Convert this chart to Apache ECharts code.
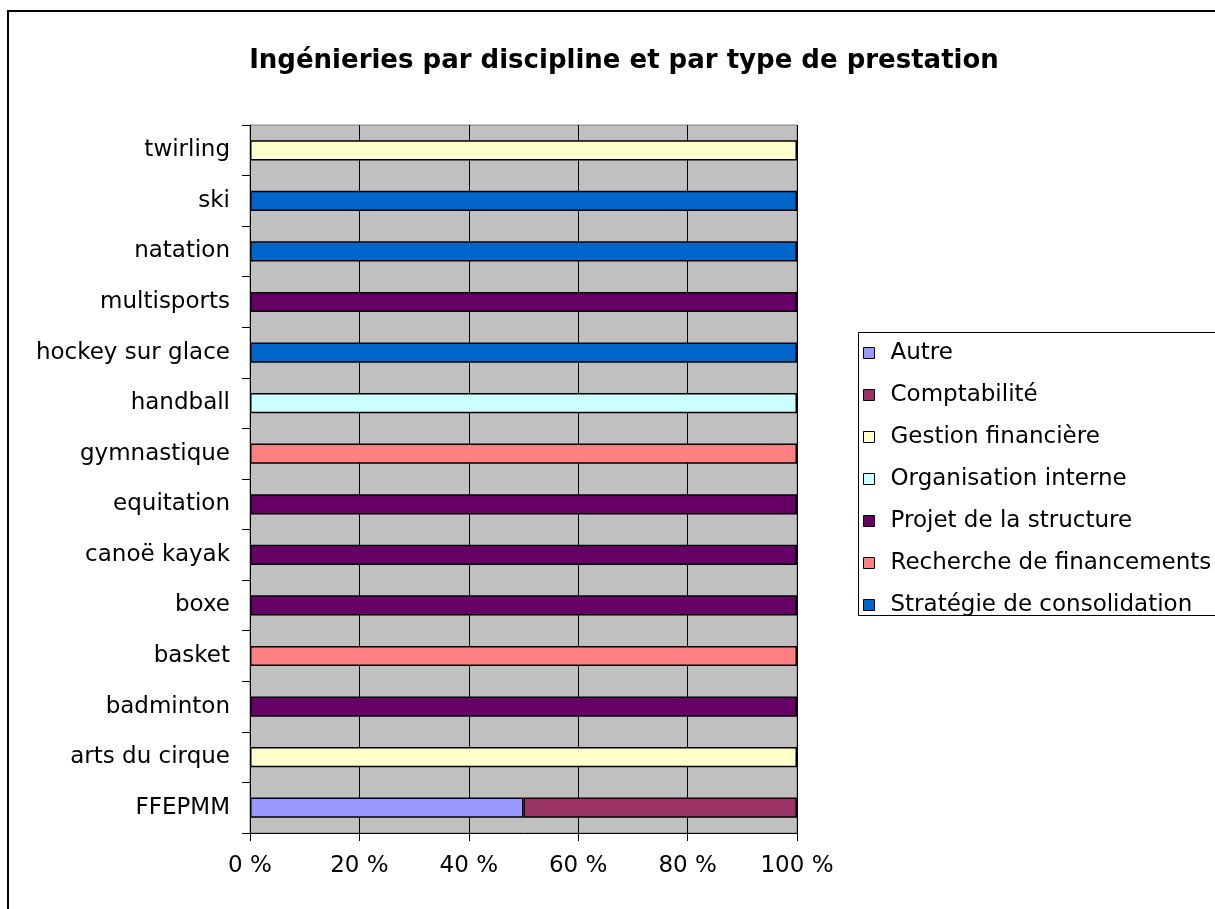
<!DOCTYPE html>
<html>
<head>
<meta charset="utf-8">
<script src="https://cdn.jsdelivr.net/npm/echarts@6/dist/echarts.min.js"></script>
<style>html,body{margin:0;padding:0;background:#fff}#c{width:1215px;height:909px}</style>
</head>
<body>
<div id="c"></div>
<script>
var categories = ['FFEPMM','arts du cirque','badminton','basket','boxe','canoë kayak','equitation','gymnastique','handball','hockey sur glace','multisports','natation','ski','twirling'];
var seriesNames = ['Autre','Comptabilité','Gestion financière','Organisation interne','Projet de la structure','Recherche de financements','Stratégie de consolidation'];
var seriesColors = ['#9999FF','#993366','#FFFFCC','#CCFFFF','#660066','#FF8080','#0066CC'];
// percentage share per category (order of categories)
var autre        = [50,null,null,null,null,null,null,null,null,null,null,null,null,null];
var comptabilite = [50,null,null,null,null,null,null,null,null,null,null,null,null,null];
var gestionFin   = [null,100,null,null,null,null,null,null,null,null,null,null,null,100];
var organisation = [null,null,null,null,null,null,null,null,100,null,null,null,null,null];
var projet       = [null,null,100,null,100,100,100,null,null,null,100,null,null,null];
var recherche    = [null,null,null,100,null,null,null,100,null,null,null,null,null,null];
var strategie    = [null,null,null,null,null,null,null,null,null,100,null,100,100,null];
var seriesData = [autre, comptabilite, gestionFin, organisation, projet, recherche, strategie];
var xTicks = [0,20,40,60,80,100];

var FONT = 'DejaVu Sans, sans-serif';
var chart = echarts.init(document.getElementById('c'));
var series = seriesNames.map(function(n,i){
  return {
    name: n, type: 'bar', stack: 'total', barWidth: '40%',
    data: seriesData[i],
    itemStyle: {color: seriesColors[i], borderColor: '#000', borderWidth: 1.5},
    emphasis: {disabled: true}
  };
});
chart.setOption({
  animation: false,
  backgroundColor: '#fff',
  title: {
    text: 'Ingénieries par discipline et par type de prestation',
    left: 619, top: 43, textAlign: 'center',
    textStyle: {fontFamily: FONT, fontSize: 26, fontWeight: 'bold', color: '#000'}
  },
  graphic: [{
    type: 'rect', shape: {x: 8, y: 11, width: 1300, height: 1000},
    style: {fill: 'none', stroke: '#000', lineWidth: 2}, silent: true
  },{
    type: 'rect', shape: {x: 858.5, y: 332.5, width: 400, height: 283},
    style: {fill: 'none', stroke: '#000', lineWidth: 1}, silent: true
  }],
  legend: {
    orient: 'vertical', left: 863, top: 341, padding: 0,
    itemWidth: 11, itemHeight: 11, itemGap: 18, icon: 'rect',
    data: seriesNames,
    itemStyle: {borderColor: '#000', borderWidth: 1},
    textStyle: {fontFamily: FONT, fontSize: 23, color: '#000', lineHeight: 24, padding: [0,0,0,11]}
  },
  grid: {left: 250, right: 418, top: 125, bottom: 76, show: true, backgroundColor: '#C0C0C0', borderColor: '#808080', borderWidth: 1},
  xAxis: {
    type: 'value', min: 0, max: 100, interval: 20,
    axisLine: {show: true, lineStyle: {color: '#000', width: 1}},
    axisTick: {show: true, length: 8, lineStyle: {color: '#000'}},
    splitLine: {show: true, lineStyle: {color: '#000', width: 1}},
    axisLabel: {formatter: function(v){return v + ' %';}, fontFamily: FONT, fontSize: 23, color: '#000', margin: 22}
  },
  yAxis: {
    type: 'category', data: categories,
    axisLine: {show: true, lineStyle: {color: '#000', width: 1}},
    axisTick: {show: true, length: 8, lineStyle: {color: '#000'}},
    axisLabel: {fontFamily: FONT, fontSize: 23, color: '#000', margin: 20}
  },
  series: series
});
</script>
</body>
</html>
